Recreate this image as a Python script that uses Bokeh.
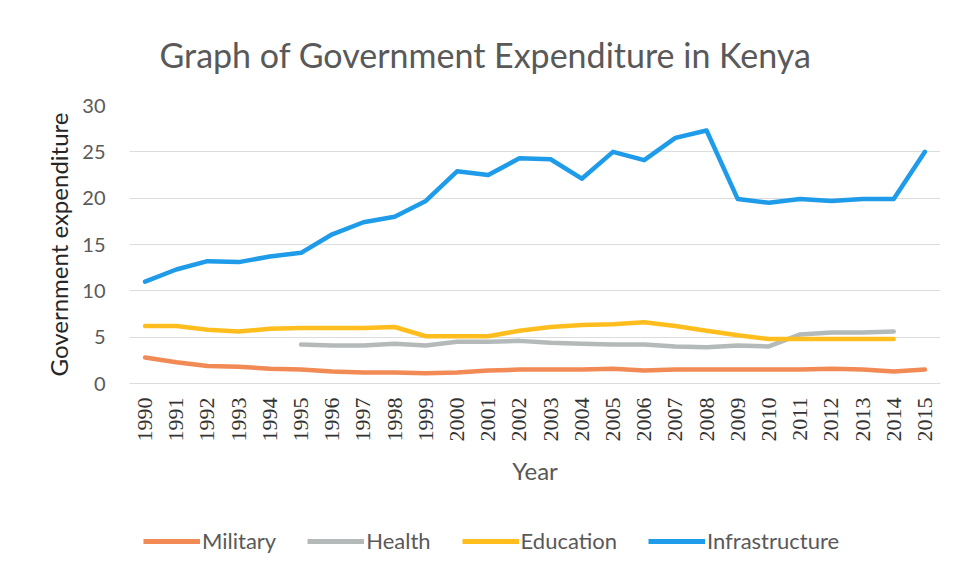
import math
from bokeh.plotting import figure
from bokeh.layouts import column
from bokeh.models import Legend, LegendItem, FixedTicker, Range1d, Title
from bokeh.embed import file_html
from bokeh.resources import INLINE

years = list(range(1990, 2016))
NA = float("nan")

military = [2.8, 2.3, 1.9, 1.8, 1.6, 1.5, 1.3, 1.2, 1.2, 1.1, 1.2, 1.4, 1.5,
            1.5, 1.5, 1.6, 1.4, 1.5, 1.5, 1.5, 1.5, 1.5, 1.6, 1.5, 1.3, 1.5]
health = [NA, NA, NA, NA, NA, 4.2, 4.1, 4.1, 4.3, 4.1, 4.5, 4.5, 4.6,
          4.4, 4.3, 4.2, 4.2, 4.0, 3.9, 4.1, 4.0, 5.3, 5.5, 5.5, 5.6, NA]
education = [6.2, 6.2, 5.8, 5.6, 5.9, 6.0, 6.0, 6.0, 6.1, 5.1, 5.1, 5.1, 5.7,
             6.1, 6.3, 6.4, 6.6, 6.2, 5.7, 5.2, 4.8, 4.8, 4.8, 4.8, 4.8, NA]
infrastructure = [11.0, 12.3, 13.2, 13.1, 13.7, 14.1, 16.1, 17.4, 18.0, 19.7,
                  22.9, 22.5, 24.3, 24.2, 22.1, 25.0, 24.1, 26.5, 27.3, 19.9,
                  19.5, 19.9, 19.7, 19.9, 19.9, 25.0]

series_names = ["Military", "Health", "Education", "Infrastructure"]
series_values = [military, health, education, infrastructure]
series_colors = ["#F28A55", "#B4BABA", "#FFBE1E", "#1E9BE9"]
y_ticks = [0, 5, 10, 15, 20, 25, 30]

title_text = "Graph of Government Expenditure in Kenya"

# ---------------- main chart ----------------
p = figure(width=959, height=500, output_backend="svg", toolbar_location=None,
           x_range=Range1d(1989.5, 2015.5), y_range=Range1d(0, 30),
           min_border_left=129, min_border_right=19, min_border_top=104,
           min_border_bottom=117)
p.outline_line_color = None
p.background_fill_color = "white"
p.border_fill_color = "white"

for name, vals, col in zip(series_names, series_values, series_colors):
    p.line(years, vals, line_color=col, line_width=4.5, line_join="round",
           line_cap="round")

p.title = Title(text=title_text, align="left", offset=30, standoff=62,
                text_font="Lato", text_font_size="34px",
                text_font_style="normal", text_color="#595959")

p.xgrid.grid_line_color = None
p.ygrid.grid_line_color = "#DCDCDC"
p.ygrid.grid_line_width = 1
p.ygrid.ticker = FixedTicker(ticks=y_ticks)

p.yaxis.ticker = FixedTicker(ticks=y_ticks)
p.yaxis.axis_line_color = None
p.yaxis.major_tick_line_color = None
p.yaxis.minor_tick_line_color = None
p.yaxis.major_label_text_font = "Lato"
p.yaxis.major_label_text_font_size = "20px"
p.yaxis.major_label_text_color = "#595959"
p.yaxis.major_label_standoff = 18
p.yaxis.axis_label = "Government expenditure"
p.yaxis.axis_label_text_font = "Lato"
p.yaxis.axis_label_text_font_size = "24px"
p.yaxis.axis_label_text_font_style = "normal"
p.yaxis.axis_label_text_color = "#262626"
p.yaxis.axis_label_standoff = 6

p.xaxis.ticker = FixedTicker(ticks=years)
p.xaxis.axis_line_color = "#DCDCDC"
p.xaxis.major_tick_line_color = None
p.xaxis.minor_tick_line_color = None
p.xaxis.major_label_orientation = math.pi / 2
p.xaxis.major_label_text_font = "Liberation Serif"
p.xaxis.major_label_text_font_size = "22px"
p.xaxis.major_label_text_color = "#333333"
p.xaxis.major_label_standoff = 8
p.xaxis.axis_label = "Year"
p.xaxis.axis_label_text_font = "Lato"
p.xaxis.axis_label_text_font_size = "24px"
p.xaxis.axis_label_text_font_style = "normal"
p.xaxis.axis_label_text_color = "#595959"
p.xaxis.axis_label_standoff = 11

# ---------------- legend strip ----------------
# the series are drawn here outside the visible range; only their legend shows
lg = figure(width=959, height=79, output_backend="svg", toolbar_location=None,
            x_axis_type=None, y_axis_type=None,
            x_range=Range1d(0, 1), y_range=Range1d(0, 1),
            min_border_left=0, min_border_right=0, min_border_top=0,
            min_border_bottom=0)
lg.outline_line_color = None
lg.xgrid.visible = False
lg.ygrid.visible = False

items = []
for name, vals, col in zip(series_names, series_values, series_colors):
    r = lg.line(years, vals, line_color=col, line_width=5)
    items.append(LegendItem(label=name, renderers=[r]))

legend = Legend(items=items, orientation="horizontal", location=(14, 25),
                label_text_font="Lato", label_text_font_size="22px",
                label_text_color="#595959", glyph_width=57, glyph_height=26,
                label_standoff=2, spacing=31, padding=0, margin=0,
                border_line_color=None, background_fill_alpha=0)
lg.add_layout(legend)

layout = column(p, lg, spacing=0)
open("out.html", "w").write(file_html(layout, INLINE))
